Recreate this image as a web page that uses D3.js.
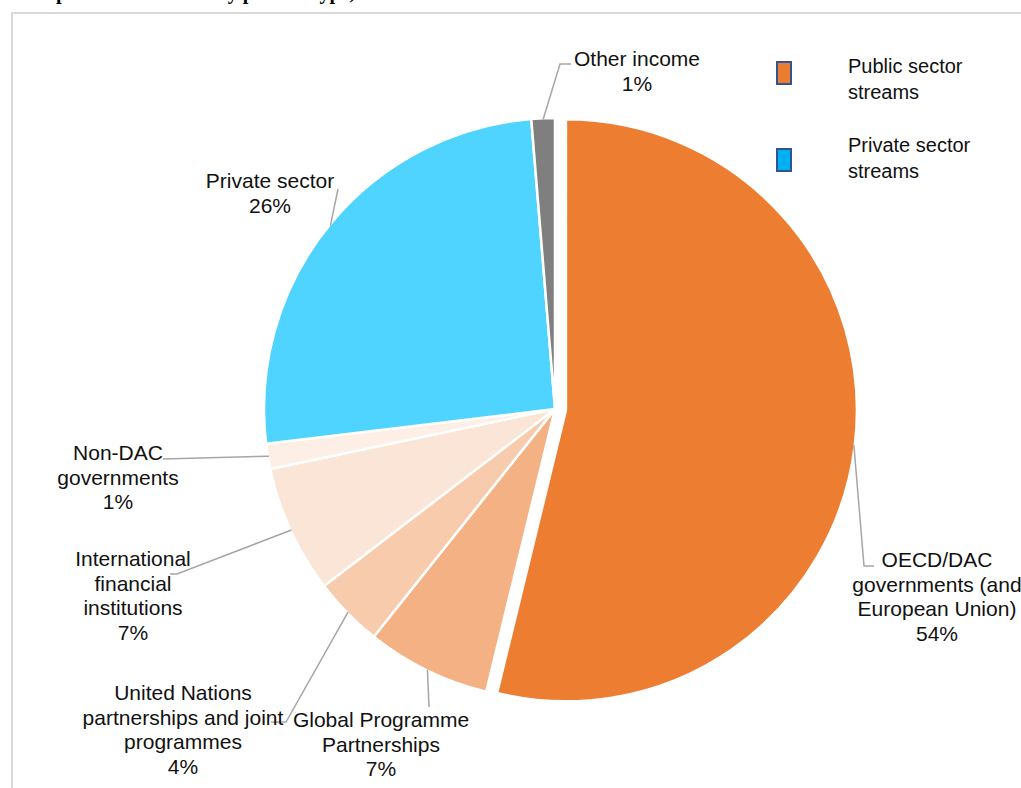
<!DOCTYPE html>
<html>
<head>
<meta charset="utf-8">
<script src="https://cdn.jsdelivr.net/npm/d3@7"></script>
<style>
  body { margin: 0; background: #fff; }
  svg { display: block; font-family: "Liberation Sans", Arial, sans-serif; }
</style>
</head>
<body>
<div id="chart"></div>
<script>
// values (share of income, %)
const categories = [
  "OECD/DAC governments (and European Union)",
  "Global Programme Partnerships",
  "United Nations partnerships and joint programmes",
  "International financial institutions",
  "Non-DAC governments",
  "Private sector",
  "Other income"
];
const values = [53.8, 6.9, 3.9, 7.1, 1.4, 25.6, 1.3];
const labelLines = [
  ["OECD/DAC", "governments (and", "European Union)"],
  ["Global Programme", "Partnerships"],
  ["United Nations", "partnerships and joint", "programmes"],
  ["International", "financial", "institutions"],
  ["Non-DAC", "governments"],
  ["Private sector"],
  ["Other income"]
];
const legendItems = [["Public sector", "streams"], ["Private sector", "streams"]];

const colors = ["#ED7D31", "#F4B183", "#F8CBAD", "#FBE5D6", "#FDEFE6", "#4FD3FF", "#7F7F7F"];
const legendColors = ["#ED7D31", "#00B0F0"];

const width = 1021, height = 788;
const cx = 555, cy = 409, radius = 291;
const explode = [11, 0, 0, 0, 0, 0, 0];

// label placement: text centre, first baseline, leader elbow points
const labelLayout = [
  { x: 937, y: 567, elbow: [[864, 566], [874, 566]] },
  { x: 381, y: 727, elbow: [[429, 707]] },
  { x: 183, y: 700, elbow: [[286, 722], [271, 722]] },
  { x: 133, y: 566, elbow: [[177, 574], [170, 574]] },
  { x: 118, y: 460, elbow: [[163, 459]] },
  { x: 270, y: 188, elbow: [[338, 189]] },
  { x: 637, y: 66, elbow: [[560, 64], [571, 64]] }
];
const lineHeight = 24.5;

const svg = d3.select("#chart").append("svg")
    .attr("width", width)
    .attr("height", height);

// cut-off title at the very top
svg.append("text")
    .attr("x", 15)
    .attr("y", -1)
    .attr("font-family", "Liberation Serif, Times New Roman, serif")
    .attr("font-weight", "bold")
    .attr("font-size", 20)
    .text("Composition of income by partner type, 2022");

// frame
svg.append("rect")
    .attr("x", 12).attr("y", 13)
    .attr("width", width + 20).attr("height", height + 20)
    .attr("fill", "none")
    .attr("stroke", "#D9D9D9")
    .attr("stroke-width", 2);

const pie = d3.pie().sort(null).value(d => d)(values);
const arc = d3.arc().innerRadius(0).outerRadius(radius);

const g = svg.append("g").attr("transform", `translate(${cx},${cy})`);

function offset(d, i) {
  const a = (d.startAngle + d.endAngle) / 2;
  return [Math.sin(a) * explode[i], -Math.cos(a) * explode[i]];
}

g.selectAll("path.slice")
  .data(pie)
  .enter()
  .append("path")
    .attr("class", "slice")
    .attr("d", arc)
    .attr("transform", (d, i) => `translate(${offset(d, i)})`)
    .attr("fill", (d, i) => colors[i])
    .attr("stroke", "#fff")
    .attr("stroke-width", 2.5)
    .attr("stroke-linejoin", "round");

// leader lines
const line = d3.line();
svg.selectAll("path.leader")
  .data(pie)
  .enter()
  .append("path")
    .attr("class", "leader")
    .attr("d", (d, i) => {
      const a = (d.startAngle + d.endAngle) / 2;
      const o = offset(d, i);
      const start = [cx + o[0] + Math.sin(a) * (radius - 1), cy + o[1] - Math.cos(a) * (radius - 1)];
      return line([start].concat(labelLayout[i].elbow));
    })
    .attr("fill", "none")
    .attr("stroke", "#A6A6A6")
    .attr("stroke-width", 1.5);

// data labels
const fmt = d3.format(".0%");
const labels = svg.selectAll("text.label")
  .data(pie)
  .enter()
  .append("text")
    .attr("class", "label")
    .attr("text-anchor", "middle")
    .attr("font-size", 21)
    .attr("fill", "#111");

labels.each(function(d, i) {
  const t = d3.select(this);
  const lines = labelLines[i].concat([fmt(values[i] / 100)]);
  lines.forEach((s, k) => {
    t.append("tspan")
      .attr("x", labelLayout[i].x)
      .attr("y", labelLayout[i].y + k * lineHeight)
      .text(s);
  });
});

// legend
const legend = svg.selectAll("g.legend")
  .data(legendItems)
  .enter()
  .append("g")
    .attr("class", "legend");

legend.append("rect")
    .attr("x", 777)
    .attr("y", (d, i) => 62 + i * 87)
    .attr("width", 14).attr("height", 22)
    .attr("fill", (d, i) => legendColors[i])
    .attr("stroke", "#2F5597")
    .attr("stroke-width", 2);

legend.append("text")
    .attr("font-size", 20)
    .attr("fill", "#111")
    .attr("data-i", (d, i) => i)
  .selectAll("tspan")
  .data((d, i) => d.map(s => ({ s, i })))
  .enter()
  .append("tspan")
    .attr("x", 848)
    .attr("y", (d, k) => 73 + d.i * 79 + k * 26)
    .text(d => d.s);
</script>
</body>
</html>
